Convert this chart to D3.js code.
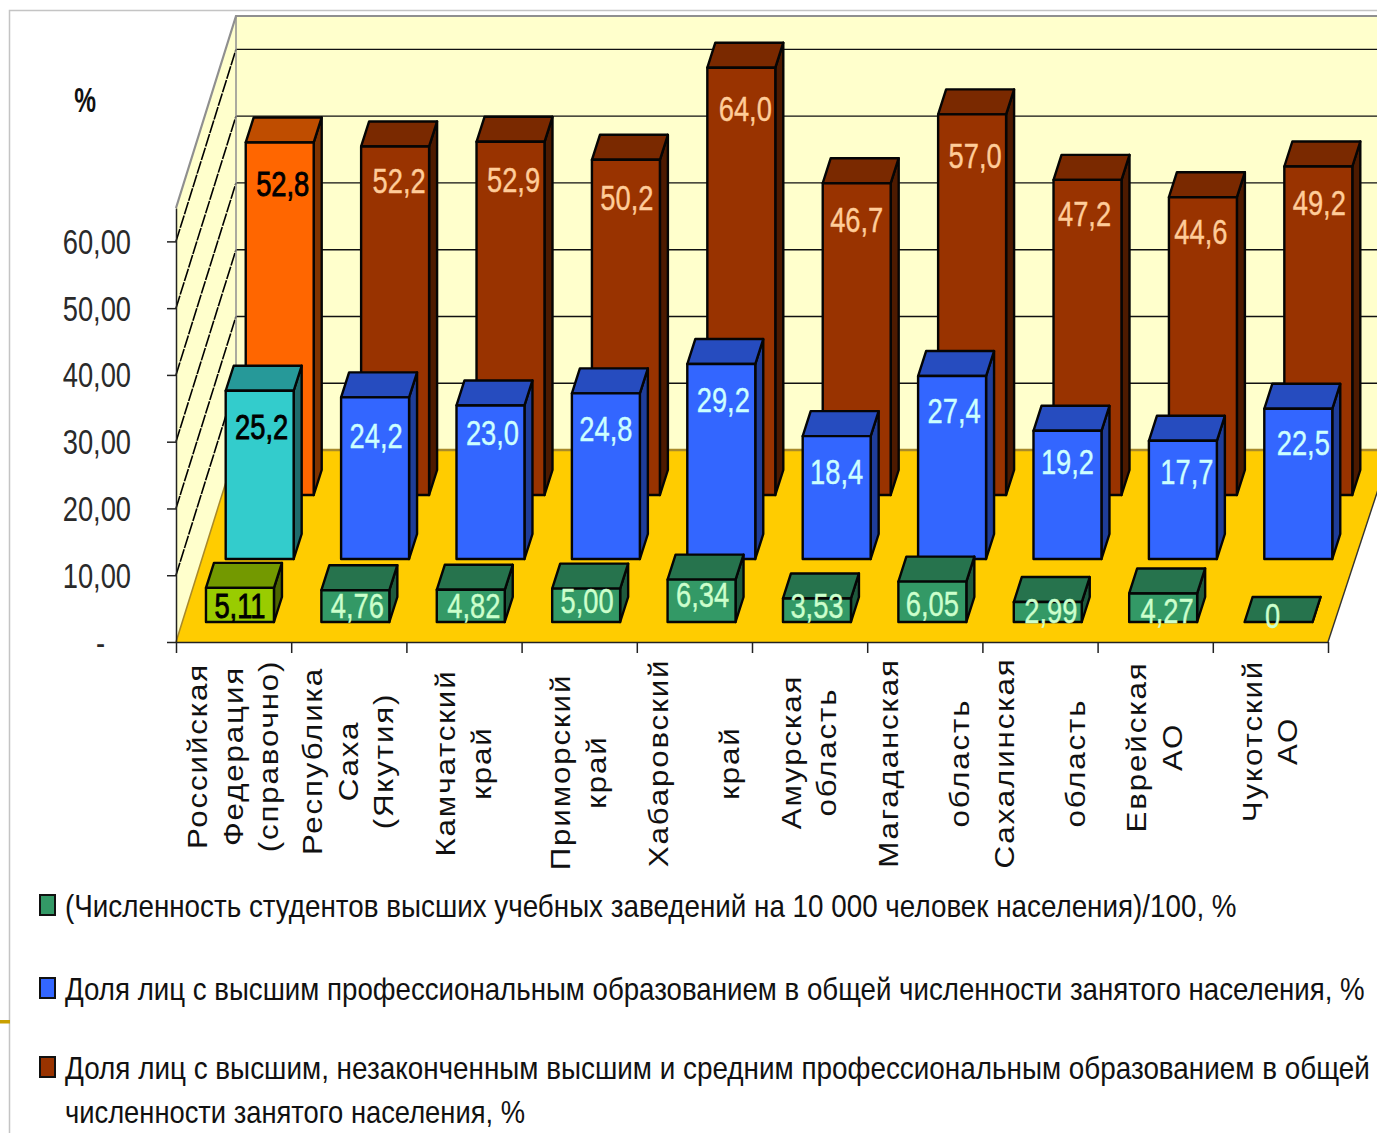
<!DOCTYPE html>
<html><head><meta charset="utf-8">
<style>html,body{margin:0;padding:0;background:#fff}svg{display:block}text{font-family:"Liberation Sans",Arial,sans-serif}</style>
<script src="https://cdnjs.cloudflare.com/ajax/libs/d3/7.8.5/d3.min.js"></script>
</head><body><svg id="c" width="1377" height="1133"></svg>
<script>
const categoryLines = [
  ["Российская","Федерация","(справочно)"],
  ["Республика","Саха","(Якутия)"],
  ["Камчатский","край"],
  ["Приморский","край"],
  ["Хабаровский","","край"],
  ["Амурская","область"],
  ["Магаданская","","область"],
  ["Сахалинская","","область"],
  ["Еврейская","АО"],
  ["Чукотский","АО"]
];
const studentValues = [5.11,4.76,4.82,5.00,6.34,3.53,6.05,2.99,4.27,0];
const higherValues  = [25.2,24.2,23.0,24.8,29.2,18.4,27.4,19.2,17.7,22.5];
const mixedValues   = [52.8,52.2,52.9,50.2,64.0,46.7,57.0,47.2,44.6,49.2];
const valueTicks = [0,10,20,30,40,50,60];
const legendLines = [
  "(Численность студентов высших учебных заведений на 10 000 человек населения)/100, %",
  "Доля лиц с высшим профессиональным образованием в общей численности занятого населения, %",
  "Доля лиц с высшим, незаконченным высшим и средним профессиональным образованием в общей",
  "численности занятого населения, %"
];
// layout only
const labelCenterY = [756,761,763,772,763,752,763,763,747,741];
const labelOffsets = {
  mixed:{dx:[3,4,3,1,4,0,3,-3,-2,1], dy:[41,34,38,38,41,36,41,34,34,36]},
  higher:{dx:[2,1,2,0,2,0,2,0,4,5], dy:[36,38,27,35,35,35,34,31,31,34]},
  student:{dx:[0,2,3,1,1,0,0,3,4,-6], dy:null}
};
const greenLabelY = [605,605,605,600,594,605,603,610,610,615];

const svg = d3.select("#c");
const frontY = 642, backY = 450, wallDX = 60, frontLeft = 176, frontRight = 1328;
const slant = 0.313, barDX = 8, barDY = 25;
const h = d3.scaleLinear().domain([0,65]).range([0,434]);
const yFront = d3.scaleLinear().domain([0,65]).range([frontY, frontY-434]);
const yBack  = d3.scaleLinear().domain([0,65]).range([backY, backY-434]);
const xBand = d3.scaleBand().domain(d3.range(10)).range([176,1330]).paddingInner(0.411).paddingOuter(0.2055);
const xCat = d3.scaleLinear().domain([0,10]).range([frontLeft,frontRight]);
const poly = pts => pts.map(p=>p.join(",")).join(" ");

// frame
svg.append("path").attr("d","M9.5,1133V10.5H1377").attr("fill","none").attr("stroke","#c4c4c4").attr("stroke-width",1.5);
svg.append("rect").attr("x",0).attr("y",1020).attr("width",10).attr("height",3.5).attr("fill","#c9a000");

// walls
const wallX = frontLeft+wallDX;
svg.append("polygon").attr("points",poly([[frontLeft,frontY],[wallX,backY],[wallX,yBack(65)],[frontLeft,yFront(65)]])).attr("fill","#ffffcc");
svg.append("rect").attr("x",wallX).attr("y",yBack(65)).attr("width",1377-wallX).attr("height",backY-yBack(65)).attr("fill","#ffffcc");
// grid
svg.append("g").selectAll("line").data(valueTicks.slice(1)).join("line")
  .attr("x1",wallX).attr("x2",1377).attr("y1",d=>yBack(d)).attr("y2",d=>yBack(d)).attr("stroke","#111").attr("stroke-width",1.4);
svg.append("g").selectAll("line").data(valueTicks.slice(1)).join("line")
  .attr("x1",frontLeft).attr("x2",wallX).attr("y1",d=>yFront(d)).attr("y2",d=>yBack(d)).attr("stroke","#000").attr("stroke-width",1.6).attr("stroke-dasharray","13 1.2");
// wall edges
svg.append("path").attr("d",`M${frontLeft},${yFront(65)}L${wallX},${yBack(65)}H1377`).attr("fill","none").attr("stroke","#8f8f8f").attr("stroke-width",2.2);
svg.append("line").attr("x1",wallX).attr("x2",wallX).attr("y1",yBack(65)).attr("y2",backY).attr("stroke","#8f8f8f").attr("stroke-width",1.5);
// floor
svg.append("polygon").attr("points",poly([[frontLeft,frontY],[frontRight,frontY],[frontRight+63,backY],[wallX,backY]])).attr("fill","#ffcc00");
svg.append("line").attr("x1",wallX).attr("x2",1377).attr("y1",backY).attr("y2",backY).attr("stroke","#a98a2a").attr("stroke-width",2.5);
svg.append("line").attr("x1",frontLeft).attr("y1",frontY).attr("x2",wallX).attr("y2",backY).attr("stroke","#a98a2a").attr("stroke-width",1.5);
svg.append("line").attr("x1",frontRight).attr("y1",frontY).attr("x2",frontRight+63).attr("y2",backY).attr("stroke","#333").attr("stroke-width",1.4);

// axes
const yAxis = svg.append("g").attr("transform",`translate(${frontLeft},0)`)
  .call(d3.axisLeft(yFront).tickValues(valueTicks).tickSize(9).tickSizeOuter(0).tickFormat(d=>d===0?"-":d+",00"));
yAxis.select(".domain").attr("stroke","#222").attr("stroke-width",1.5);
yAxis.selectAll(".tick line").attr("stroke","#222").attr("stroke-width",1.5);
yAxis.selectAll(".tick text").attr("x",0).attr("dy","0").attr("y",12).attr("font-size",35).attr("fill","#2a2a2a").attr("text-anchor","end")
  .attr("transform",d=>d===0?"translate(-71,0) scale(.78,1)":"translate(-45,0) scale(.78,1)");
const xAxis = svg.append("g").attr("transform",`translate(0,${frontY})`)
  .call(d3.axisBottom(xCat).tickValues(d3.range(11)).tickSize(11).tickSizeOuter(0).tickFormat(""));
xAxis.select(".domain").attr("stroke","#222").attr("stroke-width",1.5);
xAxis.selectAll(".tick line").attr("stroke","#222").attr("stroke-width",1.5);

// % title
svg.append("text").attr("transform","translate(85,112) scale(.72,1.05)").attr("text-anchor","middle").attr("font-size",34).attr("font-weight","bold").attr("fill","#111").text("%");

// bars
const series = [
  {key:"mixed", vals:mixedValues, base:495, dec:1, pal:["#993300","#7a2900","#4d1a00"], hi:["#ff6600","#bf4d00","#7f3300"], lab:"#ffcc99"},
  {key:"higher", vals:higherValues, base:559, dec:1, pal:["#3366ff","#264cbf","#1f3d99"], hi:["#33cccc","#269999","#1f6b6b"], lab:"#ccffff"},
  {key:"student", vals:studentValues, base:622, dec:2, pal:["#339966","#26734d","#1f5a3d"], hi:["#99cc00","#739900","#4d6600"], lab:"#ccffcc"}
];
const fmt = (v,dec)=> v===0?"0":v.toFixed(dec).replace(".",",");
series.forEach(s=>{
  const shift = slant*(frontY-s.base);
  const w = xBand.bandwidth();
  const off = labelOffsets[s.key];
  const g = svg.append("g").attr("class",s.key);
  const bars = g.selectAll("g").data(s.vals).join("g");
  const x0 = (d,i)=>xBand(i)+shift;
  const topY = d=>s.base-h(d);
  const col = (i,k)=> (i===0?s.hi:s.pal)[k];
  const st = sel=>sel.attr("stroke","#050505").attr("stroke-width",2.4).attr("stroke-linejoin","round");
  bars.append("polygon").attr("points",(d,i)=>{const x=x0(d,i)+w,t=topY(d);return poly([[x,t],[x+barDX,t-barDY],[x+barDX,s.base-barDY],[x,s.base]]);})
    .attr("fill",(d,i)=>col(i,2)).call(st);
  bars.append("polygon").attr("points",(d,i)=>{const x=x0(d,i),t=topY(d);return poly([[x,t],[x+w,t],[x+w+barDX,t-barDY],[x+barDX,t-barDY]]);})
    .attr("fill",(d,i)=>col(i,1)).call(st);
  bars.append("rect").attr("x",x0).attr("y",topY).attr("width",w).attr("height",d=>h(d))
    .attr("fill",(d,i)=>col(i,0)).call(st);
  bars.append("text")
    .attr("transform",(d,i)=>{
      const cx=x0(d,i)+w/2+off.dx[i];
      const cy=off.dy?topY(d)+off.dy[i]:greenLabelY[i];
      return `translate(${cx},${cy+12.5}) scale(.78,1)`;})
    .attr("text-anchor","middle").attr("font-size",35)
    .attr("fill",(d,i)=>i===0?"#000":s.lab)
    .attr("stroke",(d,i)=>i===0?"#000":s.lab)
    .attr("stroke-width",(d,i)=>i===0?0.9:0.4)
    .text(d=>fmt(d,s.dec));
});

// category labels
const lineStep = 35.5;
const catG = svg.append("g").selectAll("g").data(categoryLines).join("g");
catG.each(function(lines,i){
  const c = (xCat(i)+xCat(i+1))/2;
  const n = lines.length;
  d3.select(this).selectAll("text").data(lines).join("text")
    .attr("transform",(t,j)=>`translate(${c+(j-(n-1)/2)*lineStep+9},${labelCenterY[i]}) rotate(-90) scale(1.16,1)`)
    .attr("text-anchor","middle").attr("font-size",27).attr("letter-spacing",1.6).attr("fill","#111").text(t=>t);
});

// legend
const legendColors = ["#339966","#3366ff","#993300",null];
const legendBase = [917,1000,1079,1123];
const legendWidth = [1172,1300,1305,460];
const lg = svg.append("g").selectAll("g").data(legendLines).join("g");
lg.filter((d,i)=>legendColors[i]).append("rect")
  .attr("x",40).attr("y",(d,i)=>legendBase[i]-22).attr("width",15).attr("height",20)
  .attr("fill",(d,i)=>legendColors[i]).attr("stroke","#111").attr("stroke-width",2);
lg.append("text").attr("font-size",31).attr("fill","#111").text(d=>d)
  .attr("transform",function(d,i){
    const k=legendWidth[i]/this.getComputedTextLength();
    return `translate(65,${legendBase[i]}) scale(${k},1)`;});
</script></body></html>
